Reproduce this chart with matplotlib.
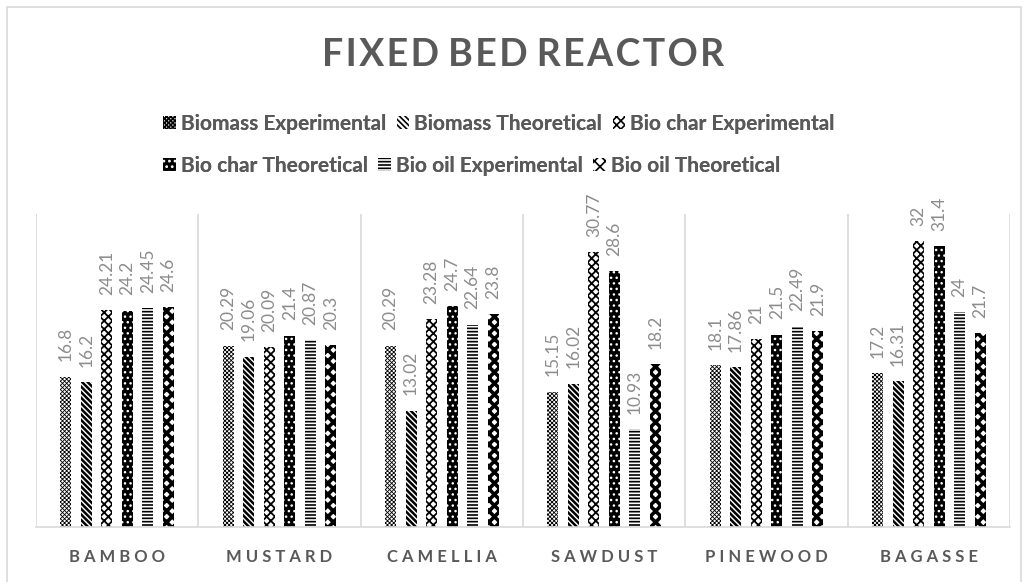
import numpy as np
import matplotlib.pyplot as plt
from matplotlib.patches import Patch, Rectangle

plt.rcParams['font.family'] = ['Lato', 'DejaVu Sans']
plt.rcParams['hatch.linewidth'] = 1.2

categories = ['BAMBOO', 'MUSTARD', 'CAMELLIA', 'SAWDUST', 'PINEWOOD', 'BAGASSE']
series_names = ['Biomass Experimental', 'Biomass Theoretical', 'Bio char Experimental',
                'Bio char Theoretical', 'Bio oil Experimental', 'Bio oil Theoretical']

biomass_exp = [16.8, 20.29, 20.29, 15.15, 18.1, 17.2]
biomass_theo = [16.2, 19.06, 13.02, 16.02, 17.86, 16.31]
biochar_exp = [24.21, 20.09, 23.28, 30.77, 21, 32]
biochar_theo = [24.2, 21.4, 24.7, 28.6, 21.5, 31.4]
biooil_exp = [24.45, 20.87, 22.64, 10.93, 22.49, 24]
biooil_theo = [24.6, 20.3, 23.8, 18.2, 21.9, 21.7]

values = [biomass_exp, biomass_theo, biochar_exp, biochar_theo, biooil_exp, biooil_theo]

# fill styles, roughly like the excel pattern fills
styles = [
    dict(facecolor='white', edgecolor='black', hatch='x' * 8),
    dict(facecolor='white', edgecolor='black', hatch='\\' * 6),
    dict(facecolor='white', edgecolor='black', hatch='x' * 4),
    dict(facecolor='black', edgecolor='white', hatch='...'),
    dict(facecolor='white', edgecolor='black', hatch='-----'),
    dict(facecolor='white', edgecolor='black', hatch='xxx'),
]
hatch_lw = [0.6, 1.8, 1.3, 1.0, 1.2, 2.6]

grey = '#595959'
label_grey = '#8c8c8c'

fig = plt.figure(figsize=(10.29, 5.82), dpi=100)
ax = fig.add_axes([36 / 1029, 55 / 582, 974 / 1029, 313 / 582])

x = np.arange(len(categories))
step = 0.1264
width = 0.068
for i, (vals, st) in enumerate(zip(values, styles)):
    pos = x + (i - 2.5) * step
    bars = ax.bar(pos, vals, width, linewidth=0, label=series_names[i], **st)
    for b in bars:
        if hasattr(b, 'set_hatch_linewidth'):
            b.set_hatch_linewidth(hatch_lw[i])
    for px, v in zip(pos, vals):
        ax.annotate(f'{v:g}', (px, v), xytext=(0, 11), textcoords='offset points',
                    rotation=90, ha='center', va='bottom', color=label_grey, fontsize=12.5)

ax.set_xlim(-0.5, 5.5)
ax.set_ylim(0, 35)
ax.set_yticks([])
ax.set_xticks(x)
ax.set_xticklabels([' '.join(c) for c in categories], fontweight='bold', color=grey, fontsize=12)
ax.tick_params(axis='x', length=0, pad=16)
ax.set_xticks(np.arange(-0.5, 6, 1), minor=True)
ax.tick_params(axis='x', which='minor', length=0)
ax.grid(axis='x', which='minor', color='#d9d9d9', linewidth=1.2)
ax.set_axisbelow(True)
for s in ['top', 'left', 'right']:
    ax.spines[s].set_visible(False)
ax.spines['bottom'].set_color('#d9d9d9')
ax.spines['bottom'].set_linewidth(1.2)

title = ' '.join('\u200a'.join(w) for w in 'FIXED BED REACTOR'.split())
fig.text(0.508, 1 - 55 / 582, title, ha='center', va='center',
         fontsize=27, fontweight='bold', color=grey)

handles = [Patch(linewidth=0, **st) for st in styles]
for row in range(2):
    leg = fig.legend(handles[row * 3:row * 3 + 3], series_names[row * 3:row * 3 + 3], ncol=3,
                     loc='center left', bbox_to_anchor=(163 / 1029, 1 - (124 + 42 * row) / 582),
                     frameon=False, handlelength=0.6, handleheight=0.6, handletextpad=0.25,
                     columnspacing=0.5, borderpad=0, borderaxespad=0,
                     prop=dict(weight='bold', size=15))
    for t in leg.get_texts():
        t.set_color(grey)
    fig.add_artist(leg)

fig.add_artist(Rectangle((7 / 1029, -0.01), 1014 / 1029, 1 - 7 / 582 + 0.01, transform=fig.transFigure,
                         fill=False, edgecolor='#d9d9d9', linewidth=1.2))

plt.savefig('out.png')
